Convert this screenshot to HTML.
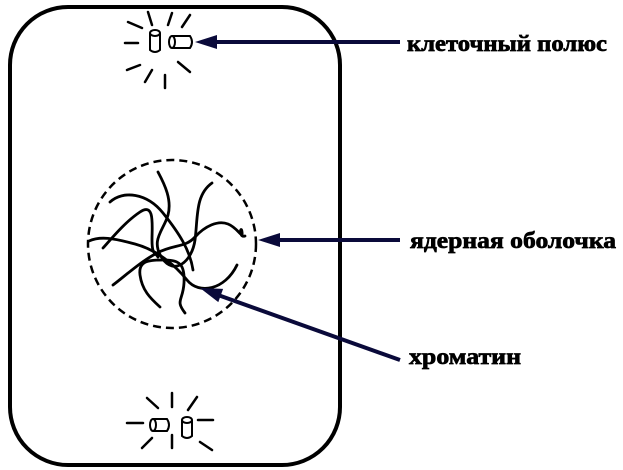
<!DOCTYPE html>
<html><head><meta charset="utf-8"><style>
html,body{margin:0;padding:0;background:#fff;}
svg{display:block;}
text{font-family:"Liberation Serif",serif;font-weight:bold;font-size:23px;fill:#000;stroke:#000;stroke-width:0.7;}
</style></head><body>
<svg width="623" height="470" viewBox="0 0 623 470" xmlns="http://www.w3.org/2000/svg">
<rect x="10" y="7" width="330" height="458" rx="58" ry="58" fill="none" stroke="#000" stroke-width="4"/>
<g stroke="#000" stroke-width="2.5" fill="none" stroke-linecap="round">
<line x1="148" y1="12" x2="152" y2="25"/><line x1="172" y1="13" x2="168" y2="25"/><line x1="190" y1="15" x2="182" y2="27"/>
<line x1="128" y1="22" x2="142" y2="28"/><line x1="125" y1="43" x2="138" y2="43"/><line x1="127" y1="70" x2="140" y2="65"/>
<line x1="145" y1="82" x2="152" y2="70"/><line x1="165" y1="88" x2="165" y2="75"/><line x1="178" y1="62" x2="190" y2="72"/>
<line x1="147" y1="398" x2="158" y2="408"/><line x1="172" y1="393" x2="172" y2="407"/><line x1="197" y1="397" x2="188" y2="410"/>
<line x1="127" y1="423" x2="143" y2="423"/><line x1="198" y1="420" x2="213" y2="420"/>
<line x1="142" y1="448" x2="152" y2="438"/><line x1="172" y1="448" x2="172" y2="435"/><line x1="200" y1="442" x2="212" y2="450"/>
</g>
<g stroke="#000" stroke-width="2" fill="#fff">
<path d="M150,33 L150,50 Q155,54 160,50 L160,33"/><ellipse cx="155" cy="33" rx="5" ry="3"/>
<path d="M172,36 L190,36 Q194,42 190,48 L172,48"/><ellipse cx="172" cy="42" rx="3" ry="6"/>
<path d="M153,419 L167,419 Q171,425 167,431 L153,431"/><ellipse cx="153" cy="425" rx="3" ry="6"/>
<path d="M182,420 L182,436 Q187,440 192,436 L192,420"/><ellipse cx="187" cy="420" rx="5" ry="3"/>
</g>
<circle cx="172" cy="244" r="84" fill="none" stroke="#000" stroke-width="2.5" stroke-dasharray="8,5"/>
<g stroke="#000" stroke-width="2.8" fill="none" stroke-linecap="round" stroke-linejoin="round">
<path d="M110,202 C123,190 147,193 163,213 S190,250 193,270"/>
<path d="M158,172 C165,185 172,200 168,215 S150,240 162,258 S192,262 195,240 S195,195 212,183"/>
<path d="M89,241 C100,236 113,238 135,244 S175,265 187,280 S225,290 237,265"/>
<path d="M103,248 C112,238 125,222 140,212 S152,225 152,240 S155,252 158,257"/>
<path d="M113,285 C125,276 140,262 157,253 S185,248 195,237 S218,220 228,224 S243,240 242,232 S238,238 245,236"/>
<path d="M160,307 C150,298 142,290 140,275 S150,260 165,260 S185,265 184,283 S175,300 185,313"/>
</g>
<g stroke="#0a0a3a" stroke-width="4">
<line x1="400" y1="42" x2="212" y2="42"/>
<line x1="400" y1="240" x2="275" y2="240"/>
<line x1="400" y1="360" x2="218" y2="295"/>
</g>
<g fill="#0a0a3a">
<polygon points="195,42 217,35 217,49"/>
<polygon points="258,240 280,233 280,247"/>
<polygon points="200,288 223.1,288.9 218.3,302.1"/>
</g>
<text x="407" y="51" textLength="200" lengthAdjust="spacingAndGlyphs">клеточный полюс</text>
<text x="410" y="248" textLength="206" lengthAdjust="spacingAndGlyphs">ядерная оболочка</text>
<text x="409" y="364" textLength="112" lengthAdjust="spacingAndGlyphs">хроматин</text>
</svg>
</body></html>
